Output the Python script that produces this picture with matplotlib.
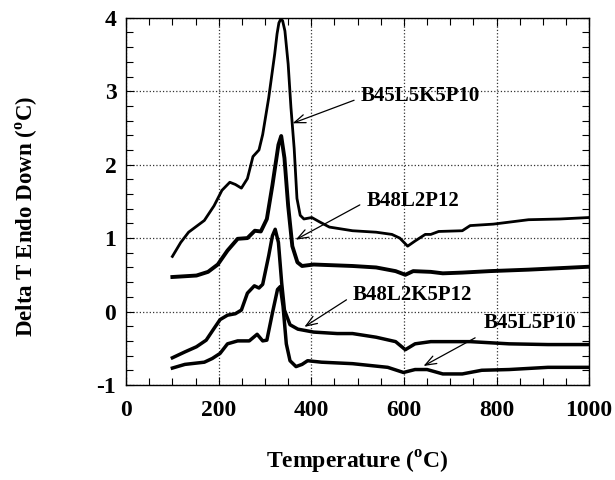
import matplotlib
matplotlib.use("Agg")
import matplotlib.pyplot as plt
from matplotlib.ticker import MultipleLocator

plt.rcParams['font.family'] = ['Liberation Serif', 'DejaVu Serif']
plt.rcParams['font.weight'] = 'bold'
plt.rcParams['mathtext.fontset'] = 'custom'
plt.rcParams['mathtext.rm'] = 'Liberation Serif:bold'
plt.rcParams['mathtext.bf'] = 'Liberation Serif:bold'
plt.rcParams['axes.unicode_minus'] = False

# B45L5K5P10 (top)
t1 = [100, 118, 135, 169, 190, 207, 224, 236, 249, 262, 274, 287, 295, 308, 321, 326, 330, 334,
      338, 343, 350, 356, 363, 369, 376, 384, 401, 418, 439, 489, 540, 574, 591, 608, 624, 646,
      658, 675, 726, 743, 793, 869, 937, 1000]
v1 = [0.75, 0.94, 1.08, 1.24, 1.44, 1.65, 1.76, 1.73, 1.68, 1.81, 2.11, 2.20, 2.41, 2.91,
      3.51, 3.78, 3.93, 3.98, 3.96, 3.82, 3.37, 2.78, 2.22, 1.54, 1.31, 1.26, 1.28, 1.22, 1.15, 1.10,
      1.08, 1.05, 1.00, 0.89, 0.96, 1.05, 1.05, 1.09, 1.10, 1.17, 1.19, 1.25, 1.26, 1.28]

# B48L2P12
t2 = [100, 152, 177, 198, 219, 241, 262, 278, 291, 304, 316, 329, 335, 342, 350, 359, 370,
      380, 405, 489, 540, 582, 603, 620, 658, 684, 726, 785, 869, 1000]
v2 = [0.47, 0.49, 0.54, 0.64, 0.83, 0.99, 1.00, 1.10, 1.09, 1.26, 1.72, 2.27, 2.39, 2.09,
      1.44, 0.89, 0.67, 0.62, 0.64, 0.62, 0.60, 0.55, 0.50, 0.55, 0.54, 0.52, 0.53, 0.55,
      0.57, 0.61]

# B48L2K5P12
t3 = [100, 127, 152, 173, 190, 203, 219, 236, 249, 262, 277, 287, 295, 308, 316, 322, 329,
      336, 342, 354, 371, 405, 456, 489, 540, 582, 603, 624, 658, 743, 827, 911, 1000]
v3 = [-0.63, -0.55, -0.48, -0.39, -0.23, -0.11, -0.05, -0.03, 0.02, 0.25, 0.35, 0.32, 0.37,
      0.76, 1.03, 1.12, 0.94, 0.39, 0.02, -0.18, -0.24, -0.28, -0.30, -0.30, -0.35, -0.41,
      -0.52, -0.44, -0.41, -0.41, -0.44, -0.45, -0.45]

# B45L5P10
t4 = [100, 127, 169, 186, 203, 219, 241, 266, 283, 295, 304, 316, 327, 333, 339, 346, 354,
      367, 380, 392, 422, 489, 565, 599, 624, 650, 684, 726, 768, 827, 911, 1000]
v4 = [-0.77, -0.72, -0.69, -0.64, -0.57, -0.44, -0.40, -0.40, -0.31, -0.40, -0.39, -0.02,
      0.30, 0.34, 0.07, -0.44, -0.67, -0.75, -0.72, -0.67, -0.69, -0.71, -0.76, -0.83,
      -0.79, -0.79, -0.85, -0.85, -0.80, -0.79, -0.76, -0.76]

labels = ["B45L5K5P10", "B48L2P12", "B48L2K5P12", "B45L5P10"]
label_pos = [(506, 2.94), (519, 1.51), (489, 0.23), (772, -0.16)]
arrow_from = [(498, 2.89), (510, 1.47), (481, 0.18), (759, -0.34)]
arrow_to = [(354, 2.55), (361, 0.96), (380, -0.23), (637, -0.76)]

fig = plt.figure(figsize=(6.15, 4.8), dpi=100)
ax = fig.add_axes([0.205, 0.198, 0.753, 0.765])

ax.plot(t1, v1, color='black', lw=2.0)
ax.plot(t2, v2, color='black', lw=2.8)
ax.plot(t3, v3, color='black', lw=2.5)
ax.plot(t4, v4, color='black', lw=2.5)

for lab, (lx, ly), (fx, fy), (tx, ty) in zip(labels, label_pos, arrow_from, arrow_to):
    ax.text(lx, ly, lab, fontsize=15, fontweight='bold', va='center', ha='left')
    ax.annotate('', xy=(tx, ty), xytext=(fx, fy),
                arrowprops=dict(arrowstyle='->,head_length=0.8,head_width=0.3',
                                color='black', lw=0.9))

ax.set_xlim(0, 1000)
ax.set_ylim(-1, 4)
ax.xaxis.set_major_locator(MultipleLocator(200))
ax.xaxis.set_minor_locator(MultipleLocator(50))
ax.yaxis.set_major_locator(MultipleLocator(1))
ax.yaxis.set_minor_locator(MultipleLocator(0.2))
ax.tick_params(which='both', direction='in', top=True, right=True, labelsize=17)
ax.tick_params(which='major', length=6, width=0.8)
ax.tick_params(which='minor', length=5, width=0.8)
ax.tick_params(axis='x', pad=11)
ax.tick_params(axis='y', pad=7)
ax.grid(True, which='major', linestyle=':', color='#333333', lw=0.9)
for lab in ax.get_xticklabels() + ax.get_yticklabels():
    lab.set_fontweight('bold')

ax.set_xlabel('Temperature ($^{\\mathbf{o}}$C)', fontsize=17, fontweight='bold', labelpad=20)
ax.set_ylabel('Delta T Endo Down ($^{\\mathbf{o}}$C)', fontsize=16.5, fontweight='bold')
ax.yaxis.set_label_coords(-0.185, 0.46)
for s in ax.spines.values():
    s.set_linewidth(1.0)

fig.savefig('out.png', dpi=100)
